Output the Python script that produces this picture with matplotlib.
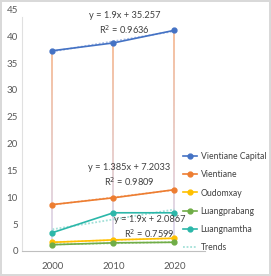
import numpy as np
import matplotlib
matplotlib.use("Agg")
import matplotlib.pyplot as plt
from matplotlib.collections import LineCollection
from matplotlib.lines import Line2D

plt.rcParams['font.family'] = ['Lato', 'DejaVu Sans']

years = [2000, 2010, 2020]
names = ["Vientiane Capital", "Vientiane", "Oudomxay", "Luangprabang", "Luangnamtha"]
vientiane_capital = [37.3, 38.75, 41.1]
vientiane = [8.63, 9.89, 11.4]
oudomxay = [1.6, 2.05, 2.35]
luangprabang = [1.15, 1.5, 1.6]
luangnamtha = [3.4, 7.1, 7.1]
series = [vientiane_capital, vientiane, oudomxay, luangprabang, luangnamtha]

colors = ["#4472C4", "#ED7D31", "#FFC000", "#70AD47", "#2BB7A9"]
trend_colors = ["#A9BDE6", "#F6BE98", "#FFE08A", "#B5D6A0", "#A3E0D8"]

eq_labels = ["y = 1.9x + 35.257\nR$^2$ = 0.9636",
             "y = 1.385x + 7.2033\nR$^2$ = 0.9809",
             "y = 1.9x + 2.0867\nR$^2$ = 0.7599"]
eq_pos = [(2011.8, 42.4), (2012.6, 14.0), (2015.9, 4.4)]

fig = plt.figure(figsize=(2.71, 2.76), dpi=100)
fig.patch.set_edgecolor("#d9d9d9")
fig.patch.set_linewidth(1.5)
ax = fig.add_axes([0.081, 0.091, 0.675, 0.875])

# high-low lines with gradient (orange top -> lavender bottom)
data = np.array(series)
top_c = np.array(matplotlib.colors.to_rgb("#F4B48C"))
bot_c = np.array(matplotlib.colors.to_rgb("#D8D4EE"))
for i, yr in enumerate(years):
    hi = data[:, i].max()
    lo = data[:, i].min()
    ys = np.linspace(hi, lo, 40)
    segs = [[(yr, ys[k]), (yr, ys[k + 1])] for k in range(len(ys) - 1)]
    t = np.linspace(0, 1, len(segs))[:, None]
    cols = top_c * (1 - t) + bot_c * t
    ax.add_collection(LineCollection(segs, colors=cols, linewidths=1.2, zorder=1))

x_idx = np.arange(1, len(years) + 1)
for name, vals, c, tc in zip(names, series, colors, trend_colors):
    p = np.polyfit(x_idx, vals, 1)
    ax.plot(years, np.polyval(p, x_idx), color=tc, lw=1.3, ls=(0, (1, 1)), zorder=2)
    ax.plot(years, vals, color=c, lw=1.2, marker="o", ms=3.5, label=name, zorder=3)

for txt, (x, y) in zip(eq_labels, eq_pos):
    ax.text(x, y, txt, ha="center", va="center", fontsize=6.7, color="#404040",
            linespacing=1.3, zorder=4)

ax.set_xlim(1995, 2025)
ax.set_ylim(0, 45)
ax.set_xticks(years)
ax.set_yticks(range(0, 46, 5))
ax.tick_params(length=0, labelsize=7, colors="#595959")
ax.tick_params(axis="x", pad=8)
ax.tick_params(axis="y", pad=3)
for s in ["top", "right"]:
    ax.spines[s].set_visible(False)
ax.spines["left"].set_color("#e0e0e0")
ax.spines["left"].set_bounds(0, 43.5)
ax.spines["bottom"].set_color("#bfbfbf")

handles, labels = ax.get_legend_handles_labels()
handles.append(Line2D([], [], color="#A3E0D8", lw=1.3, ls=(0, (1, 1))))
labels.append("Trends")
fig.legend(handles, labels, loc="center left", bbox_to_anchor=(0.645, 0.268),
           frameon=False, fontsize=6.2, labelcolor="#404040",
           handlelength=1.7, handletextpad=0.4, labelspacing=1.05)

fig.savefig("out.png", dpi=100)
